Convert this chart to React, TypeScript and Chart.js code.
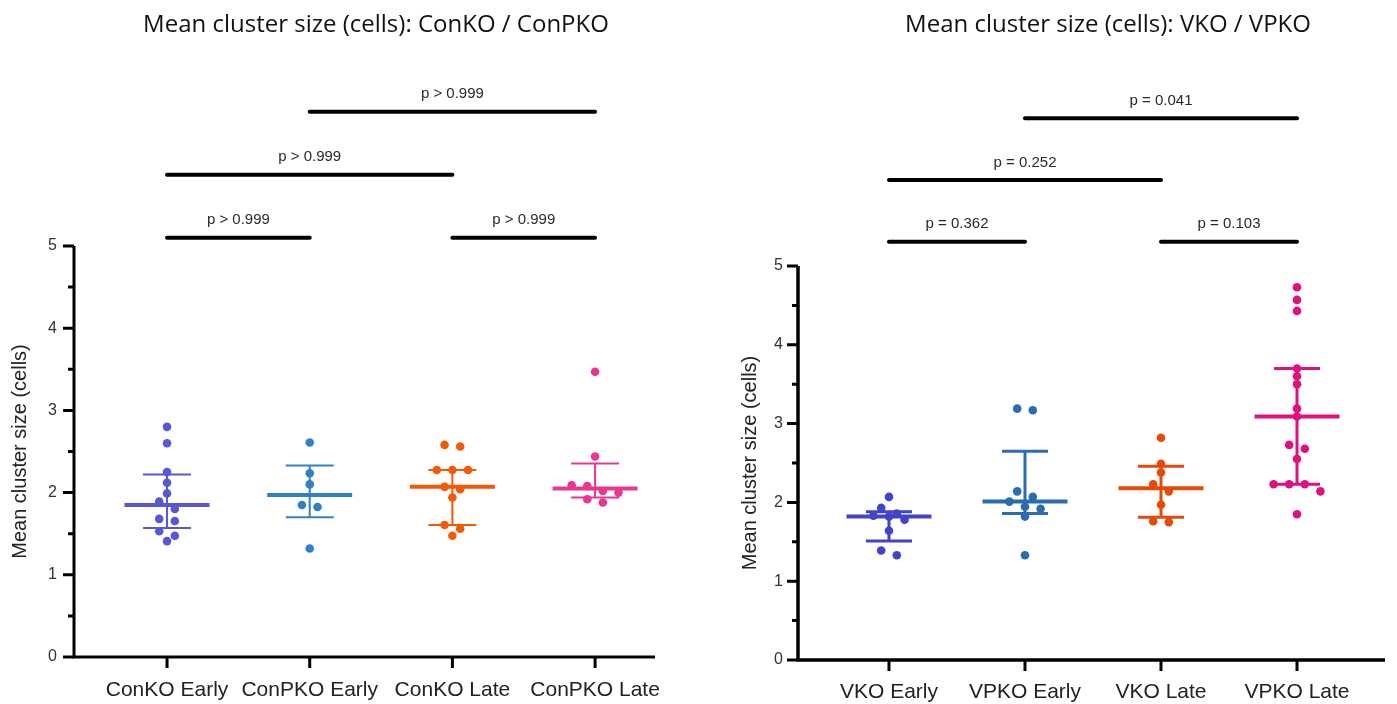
import React, { useEffect, useRef } from "react";
import { Chart, registerables } from "chart.js";

Chart.register(...registerables);

// ---------- Data ----------
const leftTitle = "Mean cluster size (cells): ConKO / ConPKO";
const rightTitle = "Mean cluster size (cells): VKO / VPKO";
const yAxisTitle = "Mean cluster size (cells)";

const leftCategories = ["ConKO Early", "ConPKO Early", "ConKO Late", "ConPKO Late"];
const rightCategories = ["VKO Early", "VPKO Early", "VKO Late", "VPKO Late"];

const conkoEarly = [2.8, 2.6, 2.25, 2.12, 1.99, 1.89, 1.8, 1.68, 1.655, 1.53, 1.475, 1.41];
const conpkoEarly = [2.61, 2.235, 2.1, 1.85, 1.825, 1.32];
const conkoLate = [2.58, 2.56, 2.275, 2.275, 2.275, 2.07, 2.04, 1.94, 1.605, 1.56, 1.475];
const conpkoLate = [3.47, 2.44, 2.09, 2.08, 2.02, 2.0, 1.92, 1.88];

const vkoEarly = [2.07, 1.93, 1.86, 1.83, 1.82, 1.78, 1.64, 1.39, 1.33];
const vpkoEarly = [3.19, 3.17, 2.14, 2.07, 2.01, 1.945, 1.92, 1.82, 1.33];
const vkoLate = [2.82, 2.49, 2.38, 2.23, 2.14, 1.97, 1.76, 1.75];
const vpkoLate = [4.73, 4.57, 4.43, 3.7, 3.6, 3.5, 3.19, 3.09, 2.73, 2.68, 2.55, 2.23, 2.23, 2.23, 2.14, 1.85];

const leftCenter = [1.85, 1.97, 2.07, 2.05];
const leftUpper = [2.22, 2.33, 2.275, 2.355];
const leftLower = [1.57, 1.7, 1.605, 1.94];

const rightCenter = [1.82, 2.01, 2.18, 3.09];
const rightUpper = [1.88, 2.65, 2.46, 3.7];
const rightLower = [1.51, 1.86, 1.81, 2.23];

const leftCmpFrom = [0, 2, 0, 1];
const leftCmpTo = [1, 3, 2, 3];
const leftCmpLevel = [0, 0, 1, 2];
const leftCmpLabel = ["p > 0.999", "p > 0.999", "p > 0.999", "p > 0.999"];

const rightCmpFrom = [0, 2, 0, 1];
const rightCmpTo = [1, 3, 2, 3];
const rightCmpLevel = [0, 0, 1, 2];
const rightCmpLabel = ["p = 0.362", "p = 0.103", "p = 0.252", "p = 0.041"];

const yTickValues = [0, 1, 2, 3, 4, 5];

const leftColors = ["#5858d4", "#3180c2", "#f15a08", "#e8378e"];
const rightColors = ["#4343c8", "#2a6cb0", "#e54a08", "#df117f"];

// ---------- Styling / layout ----------
const SANS = '"Liberation Sans", Arial, sans-serif';
const TITLE_FONT = '"Open Sans", "Noto Sans", sans-serif';

type PanelCfg = {
  title: string;
  categories: string[];
  groups: number[][];
  center: number[];
  upper: number[];
  lower: number[];
  colors: string[];
  cmpFrom: number[];
  cmpTo: number[];
  cmpLevel: number[];
  cmpLabel: string[];
  L: {
    left: number;
    width: number;
    yWidth: number;
    padRight: number;
    top: number;
    xHeight: number;
    xMin: number;
    xMax: number;
    titleX: number;
    titleY: number;
    bracketBase: number;
    bracketStep: number;
    axisWidth: number;
    errWidth: number;
    capHalf: number;
    meanHalf: number;
    yTitlePad: number;
    yTickPad: number;
    xTickPad: number;
  };
};

const panels: PanelCfg[] = [
  {
    title: leftTitle,
    categories: leftCategories,
    groups: [conkoEarly, conpkoEarly, conkoLate, conpkoLate],
    center: leftCenter,
    upper: leftUpper,
    lower: leftLower,
    colors: leftColors,
    cmpFrom: leftCmpFrom,
    cmpTo: leftCmpTo,
    cmpLevel: leftCmpLevel,
    cmpLabel: leftCmpLabel,
    L: {
      left: 0,
      width: 698,
      yWidth: 74,
      padRight: 43,
      top: 246,
      xHeight: 47,
      xMin: -0.652,
      xMax: 3.42,
      titleX: 376,
      titleY: 32,
      bracketBase: 8.3,
      bracketStep: 63,
      axisWidth: 3,
      errWidth: 2,
      capHalf: 24,
      meanHalf: 42.5,
      yTitlePad: 8,
      yTickPad: 17,
      xTickPad: 21,
    },
  },
  {
    title: rightTitle,
    categories: rightCategories,
    groups: [vkoEarly, vpkoEarly, vkoLate, vpkoLate],
    center: rightCenter,
    upper: rightUpper,
    lower: rightLower,
    colors: rightColors,
    cmpFrom: rightCmpFrom,
    cmpTo: rightCmpTo,
    cmpLevel: rightCmpLevel,
    cmpLabel: rightCmpLabel,
    L: {
      left: 698,
      width: 699,
      yWidth: 100,
      padRight: 12,
      top: 266,
      xHeight: 44,
      xMin: -0.669,
      xMax: 3.647,
      titleX: 410,
      titleY: 32,
      bracketBase: 24.3,
      bracketStep: 61.7,
      axisWidth: 3.5,
      errWidth: 3,
      capHalf: 23,
      meanHalf: 42.5,
      yTitlePad: 40,
      yTickPad: 15,
      xTickPad: 20,
    },
  },
];

const DOT_SPACING = 15.6;
const ROW_THRESHOLD = 7.5;

function makePlugin(cfg: PanelCfg) {
  const L = cfg.L;
  return {
    id: "panelDecor",
    afterDatasetsUpdate(chart: any) {
      const xs = chart.scales.x;
      chart.data.datasets.forEach((_ds: any, di: number) => {
        const meta = chart.getDatasetMeta(di);
        const els = meta.data as any[];
        const base = xs.getPixelForValue(di);
        const order = els.map((_e, i) => i).sort((a, b) => els[a].y - els[b].y);
        const rows: number[][] = [];
        let cur: number[] = [];
        let start: number | null = null;
        for (const i of order) {
          const y = els[i].y;
          if (start === null || y - start > ROW_THRESHOLD) {
            if (cur.length) rows.push(cur);
            cur = [i];
            start = y;
          } else cur.push(i);
        }
        if (cur.length) rows.push(cur);
        rows.forEach((row) => {
          row.forEach((i, k) => {
            els[i].x = base + (k - (row.length - 1) / 2) * DOT_SPACING;
          });
        });
      });
    },
    beforeDatasetsDraw(chart: any) {
      const { ctx } = chart;
      const xs = chart.scales.x;
      const ys = chart.scales.y;
      ctx.save();
      cfg.categories.forEach((_c, i) => {
        const x = xs.getPixelForValue(i);
        const yU = ys.getPixelForValue(cfg.upper[i]);
        const yL = ys.getPixelForValue(cfg.lower[i]);
        const yC = ys.getPixelForValue(cfg.center[i]);
        ctx.strokeStyle = cfg.colors[i];
        ctx.lineCap = "butt";
        ctx.lineWidth = L.errWidth;
        ctx.beginPath();
        ctx.moveTo(x, yU);
        ctx.lineTo(x, yL);
        ctx.moveTo(x - L.capHalf, yU);
        ctx.lineTo(x + L.capHalf, yU);
        ctx.moveTo(x - L.capHalf, yL);
        ctx.lineTo(x + L.capHalf, yL);
        ctx.stroke();
        ctx.lineWidth = 4;
        ctx.beginPath();
        ctx.moveTo(x - L.meanHalf, yC);
        ctx.lineTo(x + L.meanHalf, yC);
        ctx.stroke();
      });
      ctx.restore();
    },
    afterDraw(chart: any) {
      const { ctx, chartArea } = chart;
      const xs = chart.scales.x;
      const ys = chart.scales.y;
      const aw = L.axisWidth;
      const x0 = chartArea.left;
      const yTop = ys.getPixelForValue(ys.max);
      const y0 = ys.getPixelForValue(ys.min);
      ctx.save();
      ctx.strokeStyle = "#000";
      ctx.lineCap = "butt";
      ctx.lineWidth = aw;
      // axes
      ctx.beginPath();
      ctx.moveTo(x0, yTop);
      ctx.lineTo(x0, y0 + aw / 2);
      ctx.moveTo(x0 - aw / 2, y0);
      ctx.lineTo(chartArea.right, y0);
      ctx.stroke();
      // y ticks (major + minor)
      ctx.lineWidth = 3;
      ctx.beginPath();
      const vals = ys.ticks.map((t: any) => t.value);
      vals.forEach((v: number, k: number) => {
        const y = ys.getPixelForValue(v);
        ctx.moveTo(x0 - 11, y);
        ctx.lineTo(x0, y);
        if (k < vals.length - 1) {
          const ym = ys.getPixelForValue((v + vals[k + 1]) / 2);
          ctx.moveTo(x0 - 6, ym);
          ctx.lineTo(x0, ym);
        }
      });
      // x ticks
      xs.ticks.forEach((t: any) => {
        const x = xs.getPixelForValue(t.value);
        ctx.moveTo(x, y0);
        ctx.lineTo(x, y0 + 11);
      });
      ctx.stroke();
      // comparison brackets
      ctx.lineWidth = 4;
      ctx.lineCap = "round";
      ctx.fillStyle = "#2a2a2a";
      ctx.font = `15px ${SANS}`;
      ctx.textAlign = "center";
      ctx.textBaseline = "alphabetic";
      cfg.cmpFrom.forEach((a, k) => {
        const b = cfg.cmpTo[k];
        const xa = xs.getPixelForValue(a);
        const xb = xs.getPixelForValue(b);
        const y = chartArea.top - L.bracketBase - cfg.cmpLevel[k] * L.bracketStep;
        ctx.beginPath();
        ctx.moveTo(xa, y);
        ctx.lineTo(xb, y);
        ctx.stroke();
        ctx.fillText(cfg.cmpLabel[k], (xa + xb) / 2, y - 13.5);
      });
      // title
      ctx.fillStyle = "#111";
      ctx.font = `24px ${TITLE_FONT}`;
      ctx.fillText(cfg.title, L.titleX, L.titleY);
      ctx.restore();
    },
  };
}

function Panel({ cfg }: { cfg: PanelCfg }) {
  const ref = useRef<HTMLCanvasElement | null>(null);
  useEffect(() => {
    const L = cfg.L;
    const cats = cfg.categories;
    const chart = new Chart(ref.current as HTMLCanvasElement, {
      type: "scatter",
      data: {
        datasets: cfg.groups.map((vals, i) => ({
          label: cats[i],
          data: vals.map((v) => ({ x: i, y: v })),
          backgroundColor: cfg.colors[i],
          borderColor: cfg.colors[i],
          borderWidth: 0,
          pointRadius: 4.3,
          pointHoverRadius: 4.3,
        })),
      },
      options: {
        responsive: false,
        animation: false,
        events: [],
        devicePixelRatio: 1,
        layout: { padding: { top: L.top, left: 0, right: L.padRight, bottom: 0 } },
        plugins: {
          legend: { display: false },
          tooltip: { enabled: false },
          title: { display: false },
        },
        scales: {
          x: {
            type: "linear",
            min: L.xMin,
            max: L.xMax,
            grid: { display: false, drawTicks: false },
            border: { display: false },
            afterBuildTicks: (scale: any) => {
              scale.ticks = cats.map((_c, i) => ({ value: i }));
            },
            afterFit: (scale: any) => {
              scale.height = L.xHeight;
            },
            ticks: {
              autoSkip: false,
              maxRotation: 0,
              minRotation: 0,
              padding: L.xTickPad,
              color: "#222",
              font: { family: SANS, size: 21 },
              callback: (v: any) => cats[v as number] ?? "",
            },
          },
          y: {
            type: "linear",
            min: 0,
            max: 5,
            grid: { display: false, drawTicks: false },
            border: { display: false },
            afterBuildTicks: (scale: any) => {
              scale.ticks = yTickValues.map((v) => ({ value: v }));
            },
            afterFit: (scale: any) => {
              scale.width = L.yWidth;
            },
            ticks: {
              padding: L.yTickPad,
              color: "#333",
              font: { family: SANS, size: 16 },
            },
            title: {
              display: true,
              text: yAxisTitle,
              color: "#222",
              font: { family: SANS, size: 20 },
              padding: { top: L.yTitlePad, bottom: 0 },
            },
          },
        },
      },
      plugins: [makePlugin(cfg)],
    } as any);
    return () => chart.destroy();
  }, [cfg]);
  return (
    <canvas
      ref={ref}
      width={cfg.L.width}
      height={704}
      style={{ position: "absolute", left: cfg.L.left, top: 0, width: cfg.L.width, height: 704 }}
    />
  );
}

export default function App() {
  return (
    <div
      style={{
        position: "fixed",
        left: 0,
        top: 0,
        width: 1397,
        height: 704,
        background: "#fff",
        overflow: "hidden",
      }}
    >
      {panels.map((p, i) => (
        <Panel key={i} cfg={p} />
      ))}
    </div>
  );
}
